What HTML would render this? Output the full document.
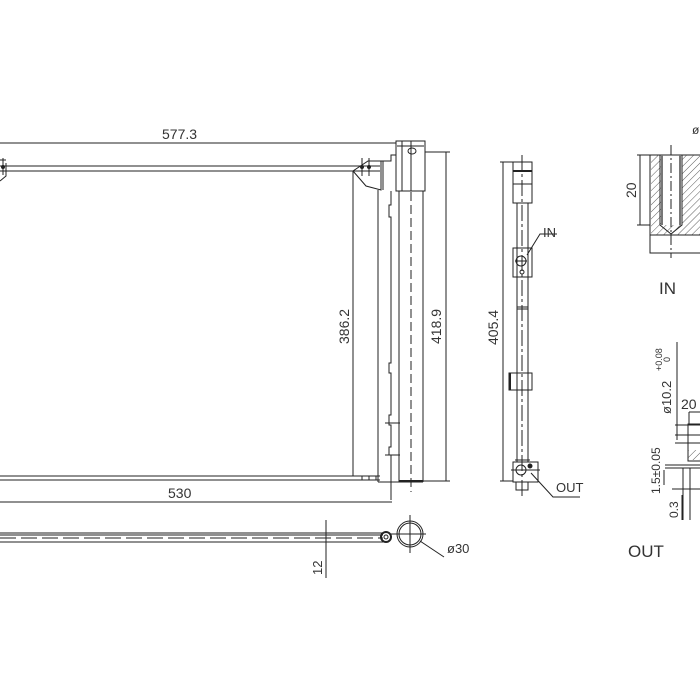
<!DOCTYPE html>
<html><head><meta charset="utf-8"><style>
html,body{margin:0;padding:0;background:#fff;width:700px;height:700px;overflow:hidden}
svg{display:block}
text{font-family:"Liberation Sans",sans-serif;fill:#333}
</style></head><body>
<svg width="700" height="700" viewBox="0 0 700 700" xmlns="http://www.w3.org/2000/svg" stroke="#222" stroke-width="1" fill="none">
<defs>
<pattern id="h" width="5" height="5" patternUnits="userSpaceOnUse" patternTransform="rotate(45)"><line x1="0" y1="0" x2="0" y2="5" stroke="#333" stroke-width="0.8"/></pattern>
</defs>
<line x1="0" y1="143" x2="396" y2="143"/>
<text x="162" y="139" font-size="14" stroke="none">577.3</text>
<line x1="0" y1="166" x2="380" y2="166"/>
<line x1="0" y1="171" x2="380" y2="171"/>
<path d="M0 181 L6 176 L6 163 M0 160 L6 160"/>
<line x1="3" y1="158" x2="3" y2="175"/>
<circle cx="3" cy="167" r="1.5" fill="#222"/>
<path d="M353 171 L366 186 L381 190 L381 161 L368 161 Z"/>
<circle cx="362" cy="167" r="1.5" fill="#222"/><circle cx="369" cy="167" r="1.5" fill="#222"/>
<line x1="362" y1="158" x2="362" y2="176"/><line x1="369" y1="158" x2="369" y2="176"/>
<line x1="383" y1="161" x2="383" y2="190"/>
<line x1="353" y1="171" x2="353" y2="476"/>
<text transform="translate(349,344) rotate(-90)" font-size="14" stroke="none">386.2</text>
<line x1="0" y1="476" x2="380" y2="476"/>
<line x1="0" y1="480" x2="380" y2="480"/>
<path d="M362 476 L362 480 M369 476 L369 480 M376 476 L376 480"/>
<rect x="396" y="141" width="29" height="50"/>
<line x1="397" y1="146" x2="424" y2="146"/>
<ellipse cx="412" cy="151" rx="4" ry="3"/>
<line x1="402" y1="141" x2="402" y2="191"/><line x1="411" y1="141" x2="411" y2="191"/>
<path d="M381 161 L391 161 L391 155 L396 155"/>
<line x1="378" y1="190" x2="378" y2="482"/>
<line x1="423" y1="191" x2="423" y2="482"/>
<line x1="378" y1="482" x2="423" y2="482"/>
<line x1="399" y1="481" x2="423" y2="481" stroke-width="2"/>
<path d="M391 191 L391 205 L389 205 L389 217 L391 217 L391 363 L389 363 L389 373 L391 373 L391 415 L389 415 L389 425 L391 425 L391 447 L389 447 L389 455 L391 455 L391 482"/>
<path d="M399 191 L399 482"/>
<line x1="411" y1="192" x2="411" y2="492" stroke-dasharray="9,4"/>
<line x1="385" y1="423" x2="400" y2="423"/><line x1="385" y1="455" x2="400" y2="455"/>
<line x1="391" y1="482" x2="391" y2="500"/>
<line x1="425" y1="152" x2="450" y2="152"/>
<line x1="446" y1="152" x2="446" y2="481"/>
<line x1="423" y1="481" x2="450" y2="481"/>
<text transform="translate(441,344) rotate(-90)" font-size="14" stroke="none">418.9</text>
<line x1="0" y1="502" x2="392" y2="502"/>
<text x="168" y="498" font-size="14" stroke="none">530</text>
<line x1="0" y1="533" x2="383" y2="533"/>
<line x1="0" y1="535" x2="383" y2="535"/>
<line x1="0" y1="538" x2="383" y2="538" stroke-dasharray="16,5"/>
<line x1="0" y1="542" x2="383" y2="542"/>
<circle cx="386" cy="537" r="5" stroke-width="2"/>
<circle cx="386" cy="537" r="2"/>
<circle cx="410" cy="534" r="13"/><circle cx="410" cy="534" r="11"/>
<line x1="410" y1="515" x2="410" y2="553"/><line x1="391" y1="534" x2="426" y2="534"/>
<line x1="420" y1="541" x2="444" y2="557"/>
<text x="447" y="553" font-size="13" stroke="none">ø30</text>
<line x1="326" y1="520" x2="326" y2="578"/>
<text transform="translate(322,575) rotate(-90)" font-size="13" stroke="none">12</text>
<line x1="522" y1="155" x2="522" y2="497" stroke-dasharray="16,3,3,3"/>
<rect x="513" y="162" width="19" height="41"/>
<line x1="513" y1="171" x2="532" y2="171" stroke-width="2"/>
<line x1="513" y1="184" x2="532" y2="184"/>
<line x1="517" y1="203" x2="517" y2="462"/><line x1="528" y1="203" x2="528" y2="462"/>
<line x1="517" y1="307" x2="528" y2="307"/><line x1="517" y1="309" x2="528" y2="309"/>
<rect x="513" y="248" width="19" height="29"/>
<circle cx="521" cy="261" r="5"/><line x1="515" y1="261" x2="527" y2="261"/>
<circle cx="522" cy="272" r="2"/>
<path d="M527 255 L540 234 L557 234"/>
<text x="543" y="237" font-size="13" stroke="none">IN</text>
<rect x="509" y="373" width="23" height="17"/>
<line x1="510" y1="373" x2="510" y2="390" stroke-width="2"/>
<rect x="513" y="462" width="25" height="20"/>
<line x1="515" y1="460" x2="530" y2="460"/>
<circle cx="521" cy="470" r="5"/><circle cx="530" cy="466" r="2" fill="#222"/>
<line x1="511" y1="470" x2="540" y2="470"/>
<rect x="516" y="482" width="12" height="8"/>
<path d="M531 473 L553 497 L580 497"/>
<text x="556" y="492" font-size="13" stroke="none">OUT</text>
<line x1="503" y1="162" x2="503" y2="481"/>
<line x1="500" y1="162" x2="513" y2="162"/><line x1="500" y1="481" x2="513" y2="481"/>
<text transform="translate(498,345) rotate(-90)" font-size="14" stroke="none">405.4</text>
<rect x="650" y="155" width="60" height="98"/>
<rect x="651" y="155" width="10" height="80" fill="url(#h)" stroke="none"/>
<rect x="682" y="155" width="20" height="80" fill="url(#h)" stroke="none"/>
<rect x="661" y="225" width="21" height="10" fill="url(#h)" stroke="none"/>
<line x1="650" y1="235" x2="700" y2="235"/>
<path d="M660 155 L660 225 L671 234 L682 225 L682 155"/>
<line x1="662" y1="155" x2="662" y2="225" stroke-width="2" stroke="#777"/>
<line x1="680" y1="155" x2="680" y2="225" stroke-width="2" stroke="#777"/>
<line x1="671" y1="145" x2="671" y2="258" stroke-dasharray="10,3,2,3"/>
<line x1="640" y1="155" x2="640" y2="225"/>
<line x1="637" y1="155" x2="650" y2="155"/><line x1="637" y1="225" x2="650" y2="225"/>
<text transform="translate(636,198) rotate(-90)" font-size="14" stroke="none">20</text>
<text x="692" y="134" font-size="12" stroke="none">ø</text>
<text x="659" y="294" font-size="17" stroke="none">IN</text>
<line x1="677" y1="342" x2="677" y2="440"/>
<text transform="translate(671,414) rotate(-90)" font-size="13" stroke="none">ø10.2</text>
<text transform="translate(662,371) rotate(-90)" font-size="9" stroke="none">+0.08</text>
<text transform="translate(670,362) rotate(-90)" font-size="9" stroke="none">0</text>
<text x="681" y="409" font-size="14" stroke="none">20</text>
<path d="M689 412 L689 424 M700 412 L689 412"/>
<rect x="688" y="424" width="14" height="37"/>
<rect x="688" y="450" width="12" height="10" fill="url(#h)" stroke="none"/>
<line x1="675" y1="425" x2="700" y2="425"/><line x1="675" y1="435" x2="700" y2="435"/><line x1="675" y1="443" x2="700" y2="443"/>
<line x1="665" y1="465" x2="700" y2="465"/><line x1="665" y1="468" x2="700" y2="468"/>
<line x1="683" y1="468" x2="683" y2="520"/><line x1="690" y1="468" x2="690" y2="520"/>
<line x1="672" y1="489" x2="700" y2="489"/>
<line x1="664" y1="470" x2="664" y2="485"/>
<text transform="translate(660,494) rotate(-90)" font-size="12" stroke="none">1.5±0.05</text>
<line x1="682" y1="495" x2="682" y2="520"/>
<text transform="translate(678,518) rotate(-90)" font-size="12" stroke="none">0.3</text>
<text x="628" y="557" font-size="17" stroke="none">OUT</text>
</svg>
</body></html>
